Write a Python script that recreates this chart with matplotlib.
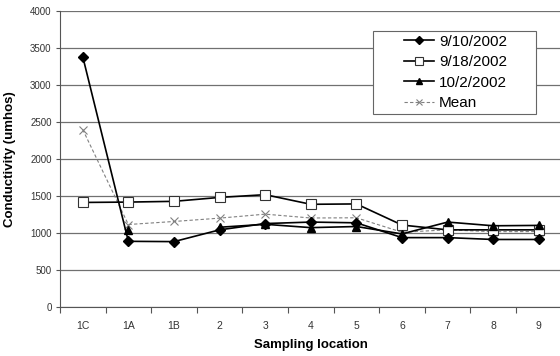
import numpy as np
import matplotlib.pyplot as plt
from matplotlib.patches import Rectangle

plt.rcParams['font.family'] = ['Liberation Sans', 'DejaVu Sans']

locations = ['1C', '1A', '1B', '2', '3', '4', '5', '6', '7', '8', '9']
sep10 = [3385, 890, 886, 1045, 1130, 1150, 1140, 940, 940, 915, 915]
sep18 = [1415, 1420, 1430, 1483, 1520, 1390, 1395, 1110, 1045, 1045, 1045]
oct02 = [np.nan, 1040, np.nan, 1080, 1120, 1075, 1090, 990, 1150, 1100, 1105]
mean = [2400, 1117, 1158, 1203, 1257, 1205, 1208, 1013, 1045, 1020, 1022]

x = np.arange(len(locations))

fig = plt.figure(figsize=(5.6, 3.56), dpi=100)
ax = fig.add_axes([0.107, 0.137, 0.896, 0.832])

ax.plot(x, sep10, color='black', lw=1.2, marker='D', ms=5, label='9/10/2002', zorder=4)
ax.plot(x, sep18, color='black', lw=1.2, marker='s', ms=6.5, mfc='white',
        mec='#333333', mew=0.8, label='9/18/2002', zorder=3)
ax.plot(x, oct02, color='black', lw=1.2, marker='^', ms=5.5, label='10/2/2002', zorder=5)
ax.plot(x, mean, color='#808080', lw=0.8, ls=(0, (3, 2)), marker='x', ms=6,
        mew=0.8, label='Mean', zorder=2)

ax.set_xlim(-0.5, len(locations) - 0.5)
ax.set_ylim(0, 4000)
ax.set_yticks(np.arange(0, 4001, 500))
ax.set_xticks(x)
ax.set_xticklabels(locations)
ax.set_xticks(np.arange(-0.5, len(locations), 1), minor=True)
ax.tick_params(axis='x', which='major', length=0, labelsize=7.5, colors='#333333', pad=10)
ax.tick_params(axis='x', which='minor', length=4, width=0.8, color='#555555')
ax.tick_params(axis='y', length=3, width=0.8, color='#555555', labelsize=7,
               labelcolor='#333333', pad=3)

ax.grid(axis='y', color='#707070', lw=0.9)
ax.set_axisbelow(True)
for side in ['top', 'right']:
    ax.spines[side].set_visible(False)
ax.spines['left'].set_color('#555555')
ax.spines['bottom'].set_color('#555555')

ax.set_xlabel('Sampling location', fontsize=9.5, fontweight='bold', labelpad=6)
ax.set_ylabel('Conductivity (umhos)', fontsize=9.5, fontweight='bold', labelpad=10)

# legend box drawn separately so the entries sit centred with wide side margins
box = Rectangle((373 / 560, 1 - 114 / 356), 163 / 560, 83 / 356,
                transform=fig.transFigure, facecolor='white', edgecolor='#666666',
                lw=0.8, zorder=6, clip_on=False)
ax.add_patch(box)
leg = ax.legend(loc='upper left', bbox_to_anchor=(400 / 560, 1 - 31 / 356),
                bbox_transform=fig.transFigure, borderaxespad=0, fontsize=11,
                frameon=False, markerscale=0.8,
                handlelength=2.0, handletextpad=0.3, labelspacing=0.42,
                borderpad=0.25)
leg.set_zorder(7)

fig.savefig('out.png', dpi=100)
